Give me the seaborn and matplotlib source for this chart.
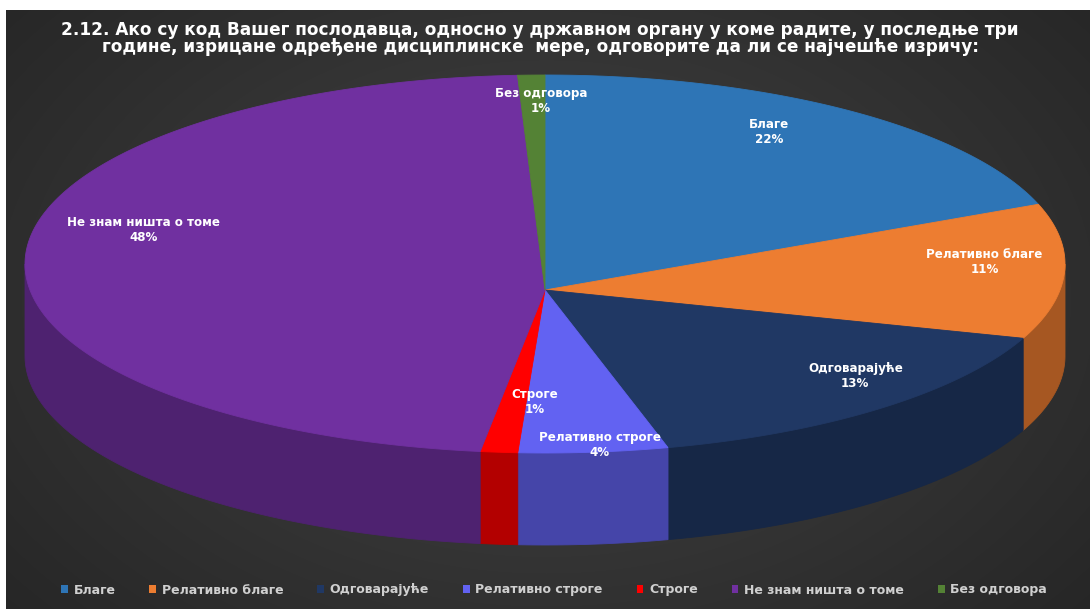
import numpy as np
import matplotlib
matplotlib.use("Agg")
import matplotlib.pyplot as plt
from matplotlib.patches import Polygon, Patch
import seaborn as sns

# ---- data -------------------------------------------------------------
categories = ["Благе", "Релативно благе", "Одговарајуће", "Релативно строге",
              "Строге", "Не знам ништа о томе", "Без одговора"]
shares = [22, 11, 13, 4, 1, 48, 1]
slice_colors = ["#2e75b6", "#ed7d31", "#203864", "#6262f2",
                "#ff0000", "#7030a0", "#548235"]
title_lines = [
    "2.12. Ако су код Вашег послодавца, односно у државном органу у коме радите, у последње три",
    "године, изрицане одређене дисциплинске  мере, одговорите да ли се најчешће изричу:",
]

# ---- style ------------------------------------------------------------
sns.set_theme(style="dark")
plt.rcParams["font.family"] = ["DejaVu Sans"]
palette = sns.color_palette(slice_colors)

W, H = 1092, 609
fig = plt.figure(figsize=(W / 100, H / 100), dpi=100, facecolor="white")
ax = fig.add_axes([0, 0, 1, 1])
ax.set_facecolor("white")

# dark radial backdrop
bx0, bx1, by0, by1 = 6, 1090, 10, 609
yy, xx = np.mgrid[by0:by1, bx0:bx1]
rr = np.sqrt(((xx - 546) / 620.0) ** 2 + ((yy - 300) / 420.0) ** 2)
g = np.clip(0.265 - 0.10 * rr, 0.15, 0.27)
ax.imshow(np.dstack([g, g, g]), extent=(bx0, bx1, by1, by0),
          interpolation="bilinear", zorder=0)
ax.set_xlim(0, W)
ax.set_ylim(H, 0)
ax.set_aspect("auto")
ax.axis("off")

# ---- 3-D pie geometry -------------------------------------------------
ecx, ecy = 545.0, 264.0      # centre of the rim ellipse
ea, eb = 520.0, 189.0        # semi-axes of the rim ellipse
apx, apy = 545.0, 290.0      # projected pie centre
depth = 92.0                 # height of the side wall
skew_side = 9.0              # angular skew of the tilted view
skew_front = 3.0             # slight turn of the front edge


def to_param(phi):
    """Pie angle (deg, CCW from +x) -> parametric angle on the rim ellipse."""
    r = np.radians(phi)
    return phi + skew_side * np.cos(r) - skew_front * (1 - np.sin(r)) / 2


def rim(t):
    t = np.radians(t)
    return ecx + ea * np.cos(t), ecy - eb * np.sin(t)


def shade(c, f):
    return tuple(min(1.0, max(0.0, v * f)) for v in c)


fractions = np.array(shares, dtype=float) / np.sum(shares)
bounds_phi = 90.0 - 360.0 * np.concatenate([[0.0], np.cumsum(fractions)])
bounds_t = to_param(bounds_phi)

# side walls (only the front half, -180..0 in parametric angle)
for i, col in enumerate(palette):
    hi, lo = bounds_t[i], bounds_t[i + 1]
    for k in (0, -360):
        a0, a1 = max(lo - k, -180.0), min(hi - k, 0.0)
        if a1 <= a0:
            continue
        ts = np.linspace(a0, a1, 120)
        x, y = rim(ts)
        poly = np.column_stack([np.r_[x, x[::-1]], np.r_[y, y[::-1] + depth]])
        ax.add_patch(Polygon(poly, closed=True, facecolor=shade(col, 0.70),
                             edgecolor=shade(col, 0.70), lw=0.6, zorder=2))

# top faces
for i, col in enumerate(palette):
    ts = np.linspace(bounds_t[i], bounds_t[i + 1], 200)
    x, y = rim(ts)
    poly = np.column_stack([np.r_[apx, x], np.r_[apy, y]])
    ax.add_patch(Polygon(poly, closed=True, facecolor=col, edgecolor=col,
                         lw=0.6, zorder=3))

# ---- data labels ------------------------------------------------------
label_frac = [0.84, 0.846, 0.825, 0.955, 0.69, 0.80, 0.88]
label_dt = [3.3, 4.0, 5.7, 1.0, 3.5, -4.5, -1.0]
mid_phi = (bounds_phi[:-1] + bounds_phi[1:]) / 2.0
for i, (name, val) in enumerate(zip(categories, shares)):
    rx, ry = rim(to_param(mid_phi[i]) + label_dt[i])
    lx = apx + label_frac[i] * (rx - apx)
    ly = apy + label_frac[i] * (ry - apy)
    ax.text(lx, ly, f"{name}\n{val}%", ha="center", va="center",
            color="white", fontsize=8.6, fontweight="bold",
            linespacing=1.2, zorder=5)

# ---- title ------------------------------------------------------------
for j, line in enumerate(title_lines):
    ax.text(540, 30 + 17 * j, line, ha="center", va="center", color="white",
            fontsize=12.2, fontweight="bold", zorder=5)

# ---- legend -----------------------------------------------------------
handles = [Patch(facecolor=c, edgecolor="none") for c in palette]
fig.legend(handles, categories, loc="center", bbox_to_anchor=(554 / W, 1 - 590 / H),
           ncol=7, frameon=False, handlelength=0.55, handleheight=0.55,
           handletextpad=0.45, columnspacing=2.7,
           prop={"size": 9.0, "weight": "bold"}, labelcolor="#d0d0d0")

fig.savefig("out.png", dpi=100, facecolor="white")
